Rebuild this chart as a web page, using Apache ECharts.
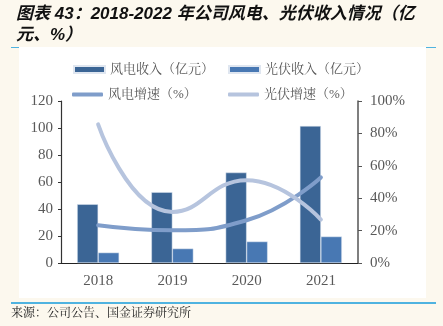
<!DOCTYPE html>
<html><head><meta charset="utf-8">
<script src="https://cdn.jsdelivr.net/npm/echarts@6/dist/echarts.min.js"></script>
<style>html,body{margin:0;padding:0;background:#fcf8ee;}#c{width:443px;height:326px;}</style>
</head><body><div id="c"></div>
<script>
const categories = ['2018', '2019', '2020', '2021'];
const windRevenue = [43.5, 52.5, 67, 101.5];
const solarRevenue = [7.7, 10.7, 15.9, 19.6];
const windGrowth = [23.3, 20.2, 26.4, 52.8];
const solarGrowth = [85.6, 31.5, 51.1, 26.8];
const leftTicks = [0, 20, 40, 60, 80, 100, 120];
const rightTicks = [0, 20, 40, 60, 80, 100];
const names = ['风电收入（亿元）', '光伏收入（亿元）', '风电增速（%）', '光伏增速（%）'];

const colors = ['#3b6595', '#4878b3', '#7f9dca', '#b6c4de'];
const serif = "'Liberation Serif','Noto Serif CJK SC','Noto Sans CJK SC',serif";
const legendText = {color: '#595959', fontSize: 13, fontFamily: serif};
function leg(i, left, top, icon, h) {
  return {data: [names[i]], left: left, top: top, icon: icon, itemWidth: 31, itemHeight: h,
    textStyle: legendText, itemGap: 0, padding: 0, selectedMode: false};
}
const chart = echarts.init(document.getElementById('c'), null, {renderer: 'canvas'});
chart.setOption({
  backgroundColor: '#fcf8ee',
  animation: false,
  title: {
    text: '图表 43：2018-2022 年公司风电、光伏收入情况（亿\n元、%）',
    left: 11, top: -1,
    textStyle: {fontSize: 17, fontWeight: 'bold', fontStyle: 'italic', color: '#111',
      fontFamily: "'Liberation Sans','Noto Sans CJK SC',sans-serif", lineHeight: 21}
  },
  graphic: [
    {type: 'rect', shape: {x: 11, y: 47, width: 425, height: 1}, style: {fill: '#4fb3e0'}, z: -20},
    {type: 'rect', shape: {x: 19, y: 47, width: 407, height: 251}, style: {fill: '#ffffff'}, z: -10},
    {type: 'rect', shape: {x: 11, y: 302, width: 425, height: 2}, style: {fill: '#4fb3e0'}, z: -10},
    {type: 'text', left: 11, top: 306, z: 2,
      style: {text: '来源：公司公告、国金证券研究所', fontSize: 12, fill: '#222',
        fontFamily: "'Noto Serif CJK SC','Noto Sans CJK SC',serif"}}
  ],
  legend: [
    leg(0, 73, 63, 'rect', 7),
    leg(1, 228, 63, 'rect', 7),
    leg(2, 72, 88, 'roundRect', 4),
    leg(3, 228, 88, 'roundRect', 4)
  ],
  color: colors,
  grid: {left: 61, right: 85, top: 101, bottom: 63, containLabel: false},
  xAxis: {
    type: 'category', data: categories,
    axisLine: {lineStyle: {color: '#222', width: 1.2}},
    axisTick: {show: false},
    axisLabel: {color: '#595959', fontSize: 15, fontFamily: serif, margin: 11}
  },
  yAxis: [
    {type: 'value', min: 0, max: 120, interval: 20,
      axisLine: {show: true, lineStyle: {color: '#333', width: 1.2}},
      axisTick: {show: true, length: 3, lineStyle: {color: '#333'}},
      splitLine: {show: false},
      axisLabel: {color: '#595959', fontSize: 15, fontFamily: serif, margin: 8}},
    {type: 'value', min: 0, max: 100, interval: 20, position: 'right',
      axisLine: {show: true, lineStyle: {color: '#555', width: 1.5}},
      axisTick: {show: true, length: 4, lineStyle: {color: '#555'}},
      splitLine: {show: false},
      axisLabel: {color: '#595959', fontSize: 15, fontFamily: serif, margin: 12, formatter: '{value}%'}}
  ],
  series: [
    {name: names[0], type: 'bar', data: windRevenue, barWidth: 21, barGap: '0%',
      itemStyle: {color: colors[0], borderColor: '#dfe6f0', borderWidth: 0.5}, z: 3},
    {name: names[1], type: 'bar', data: solarRevenue, barWidth: 21,
      itemStyle: {color: colors[1], borderColor: '#dfe6f0', borderWidth: 0.5}, z: 3},
    {name: names[2], type: 'line', yAxisIndex: 1, data: windGrowth, smooth: true, symbol: 'none',
      lineStyle: {width: 4, color: colors[2], cap: 'round'}, itemStyle: {color: colors[2]}, z: 4},
    {name: names[3], type: 'line', yAxisIndex: 1, data: solarGrowth, smooth: true, symbol: 'none',
      lineStyle: {width: 4, color: colors[3], cap: 'round'}, itemStyle: {color: colors[3]}, z: 4}
  ]
});
</script></body></html>
